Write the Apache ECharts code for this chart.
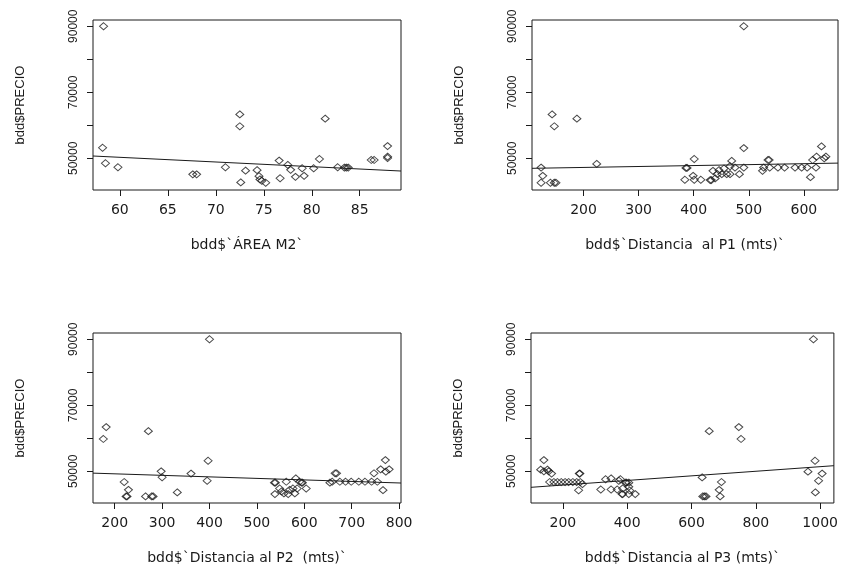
<!DOCTYPE html>
<html>
<head>
<meta charset="utf-8">
<script src="https://cdn.jsdelivr.net/npm/echarts@6/dist/echarts.min.js"></script>
<style>
  html, body { margin: 0; padding: 0; background: #fff; }
  #chart { width: 841px; height: 566px; }
</style>
</head>
<body>
<div id="chart"></div>
<script>
var area1   = [58.3, 72.5, 72.5, 81.4, 58.2, 58.5, 59.8, 67.6, 68.0, 71.0, 72.6, 73.1, 74.3, 74.5, 74.6, 74.8, 75.2, 76.6, 76.7, 77.5, 77.8, 78.3, 79.0, 79.2, 80.2, 80.8, 82.7, 83.4, 83.6, 83.8, 86.2, 86.5, 87.9, 87.9, 87.9];
var precio1 = [90000, 63300, 59700, 62000, 53200, 48500, 47300, 45150, 45150, 47300, 42700, 46250, 46400, 44600, 43600, 43200, 42600, 49300, 43950, 48000, 46500, 44400, 47000, 44700, 47000, 49800, 47300, 47200, 47200, 47200, 49500, 49500, 53700, 50500, 50100];

var dist1   = [491, 143, 147, 188, 491, 224, 123, 126, 123, 140, 147, 150, 386, 388, 384, 399, 401, 401, 413, 430, 432, 435, 439, 443, 446, 451, 455, 460, 466, 466, 469, 475, 483, 491, 525, 527, 535, 537, 538, 553, 565, 584, 596, 606, 612, 616, 622, 623, 632, 637, 640];
var precio2 = [90000, 63300, 59700, 62000, 53100, 48300, 47200, 44700, 42600, 42600, 42600, 42600, 47100, 47100, 43500, 44700, 49800, 43500, 43500, 43400, 43400, 46200, 43900, 45200, 46400, 45200, 46900, 45200, 45200, 47600, 49200, 47200, 45200, 47200, 46200, 47200, 49500, 49500, 47200, 47200, 47200, 47200, 47200, 47200, 44300, 49500, 47200, 50500, 53600, 50000, 50500];

var dist2   = [400, 182, 176, 271, 397, 220, 229, 224, 226, 265, 278, 281, 298, 300, 332, 361, 395, 537, 539, 538, 548, 552, 557, 562, 566, 569, 576, 580, 582, 585, 590, 594, 596, 604, 654, 659, 665, 668, 675, 687, 699, 715, 728, 742, 747, 754, 761, 766, 772, 779, 771];
var precio3 = [90000, 63400, 59800, 62150, 53200, 46750, 44400, 42400, 42400, 42400, 42400, 42400, 50000, 48200, 43600, 49300, 47150, 46550, 46550, 43100, 44800, 43900, 43300, 46850, 43100, 44400, 44800, 43300, 47850, 44800, 46850, 46550, 46550, 44800, 46550, 46850, 49400, 49400, 46850, 46850, 46850, 46850, 46850, 46850, 49400, 46850, 50600, 44300, 49900, 50600, 53400];

var dist3   = [979, 747, 754, 655, 984, 962, 1006, 995, 985, 633, 693, 686, 689, 635, 640, 645, 141, 131, 141, 152, 156, 165, 159, 172, 183, 195, 207, 218, 231, 243, 254, 261, 251, 253, 249, 318, 333, 350, 350, 369, 379, 374, 395, 398, 405, 386, 405, 408, 384, 386, 405, 425];
var precio4 = [90000, 63400, 59800, 62150, 53200, 49900, 49300, 47150, 43600, 48150, 46750, 44400, 42400, 42400, 42400, 42400, 53400, 50500, 50000, 50500, 50000, 49300, 46750, 46750, 46750, 46750, 46750, 46750, 46750, 46750, 46750, 46150, 49300, 49300, 44250, 44500, 47600, 47850, 44500, 44500, 47600, 47150, 46550, 46550, 46550, 44800, 45300, 44200, 43100, 43100, 43100, 43100];

// rectas de regresion (extremos)
var fitX1 = [57.2, 89.3],  fitY1 = [50700, 46150];
var fitX2 = [106.5, 662],  fitY2 = [46970, 48550];
var fitX3 = [154.2, 804],  fitY3 = [49450, 46450];
var fitX4 = [101, 1042.6], fitY4 = [45150, 51700];

var xTicks1 = [60, 65, 70, 75, 80, 85];
var xTicks2 = [200, 300, 400, 500, 600];
var xTicks3 = [200, 300, 400, 500, 600, 700, 800];
var xTicks4 = [200, 400, 600, 800, 1000];
var yTicks = [50000, 60000, 70000, 80000, 90000];
var yLabels = [50000, 70000, 90000];

var xNames = ["bdd$`ÁREA M2`", "bdd$`Distancia  al P1 (mts)`", "bdd$`Distancia al P2  (mts)`", "bdd$`Distancia al P3 (mts)`"];

function zip(a, b) {
    return a.map(function (v, i) { return [v, b[i]]; });
}
function plain(v) { return String(v); }

var ink = '#1a1a1a';
var grids = [
    { left: 93,  top: 20,  width: 308, height: 170 },
    { left: 532, top: 20,  width: 306, height: 170 },
    { left: 93,  top: 333, width: 308, height: 170 },
    { left: 531, top: 333, width: 307, height: 170 }
];
var xRanges = [[57.2, 89.3], [106.5, 662], [154.2, 804], [101, 1042.6]];
var xTicks = [xTicks1, xTicks2, xTicks3, xTicks4];
var pts = [zip(area1, precio1), zip(dist1, precio2), zip(dist2, precio3), zip(dist3, precio4)];
var fits = [zip(fitX1, fitY1), zip(fitX2, fitY2), zip(fitX3, fitY3), zip(fitX4, fitY4)];

var option = {
    animation: false,
    backgroundColor: '#fff',
    grid: grids.map(function (g) {
        return Object.assign({ show: true, borderColor: ink, borderWidth: 1, backgroundColor: 'transparent' }, g);
    }),
    xAxis: grids.map(function (g, i) {
        return {
            type: 'value', gridIndex: i,
            min: xRanges[i][0], max: xRanges[i][1],
            axisLine: { show: false },
            splitLine: { show: false },
            axisTick: { show: true, inside: false, length: 6, customValues: xTicks[i], lineStyle: { color: ink } },
            axisLabel: { customValues: xTicks[i], formatter: plain, margin: 13, fontSize: 14, color: ink, fontFamily: 'DejaVu Sans' },
            name: xNames[i], nameLocation: 'middle', nameGap: 48,
            nameTextStyle: { fontSize: 14, color: ink, fontFamily: 'DejaVu Sans' }
        };
    }),
    yAxis: grids.map(function (g, i) {
        return {
            type: 'value', gridIndex: i,
            min: 40400, max: 91900,
            axisLine: { show: false },
            splitLine: { show: false },
            axisTick: { show: true, inside: false, length: 6, customValues: yTicks, lineStyle: { color: ink } },
            axisLabel: { customValues: yLabels, formatter: plain, rotate: 90, margin: 13, fontSize: 12, color: ink, fontFamily: 'Liberation Sans' },
            name: 'bdd$PRECIO', nameLocation: 'middle', nameGap: 66,
            nameTextStyle: { fontSize: 13, color: ink, fontFamily: 'Liberation Sans' }
        };
    }),
    series: []
};

for (var i = 0; i < 4; i++) {
    option.series.push({
        type: 'scatter', xAxisIndex: i, yAxisIndex: i,
        symbol: 'diamond', symbolSize: [8, 7],
        itemStyle: { color: 'rgba(0,0,0,0)', borderColor: ink, borderWidth: 1 },
        data: pts[i], silent: true
    });
    option.series.push({
        type: 'line', xAxisIndex: i, yAxisIndex: i,
        showSymbol: false, silent: true,
        lineStyle: { color: ink, width: 1 },
        data: fits[i]
    });
}

var myChart = echarts.init(document.getElementById('chart'));
myChart.setOption(option);
</script>
</body>
</html>
